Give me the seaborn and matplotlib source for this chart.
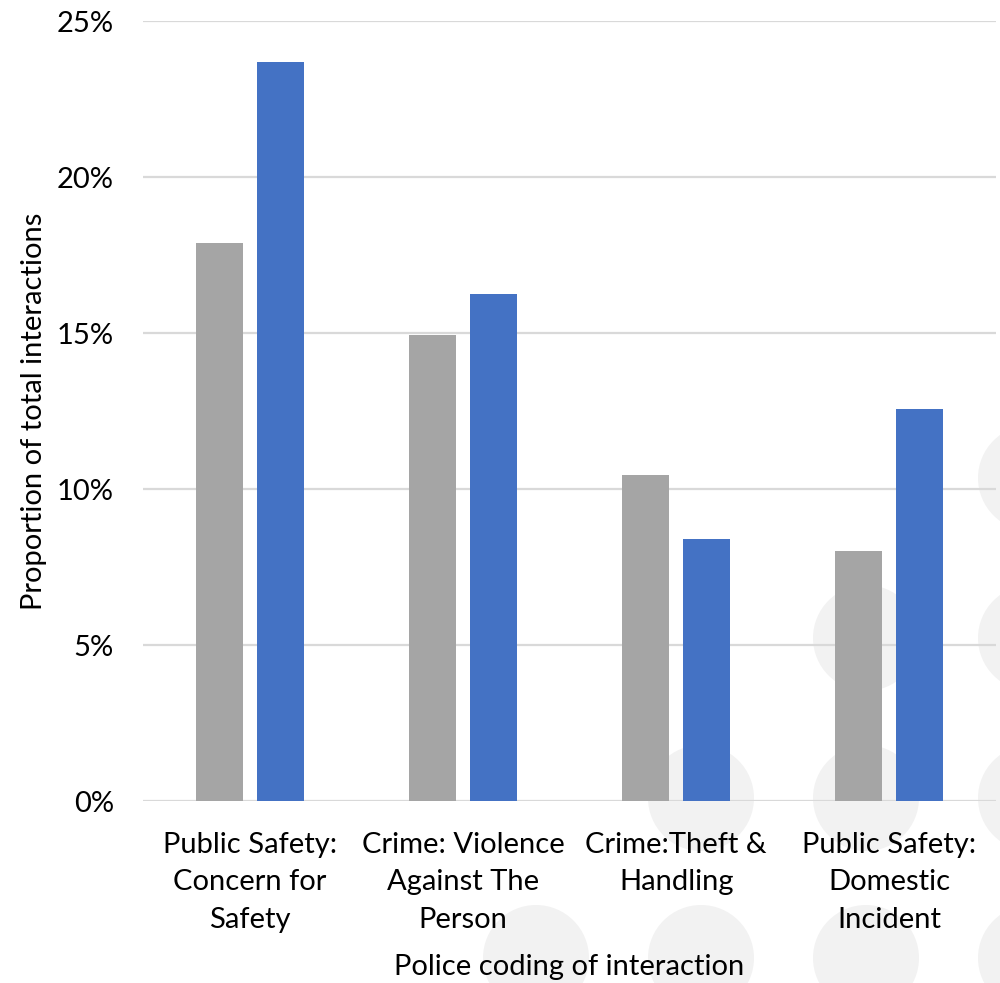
import matplotlib
matplotlib.use("Agg")
import matplotlib.pyplot as plt
from matplotlib.patches import Circle
from matplotlib.ticker import PercentFormatter
import seaborn as sns
import pandas as pd

# Police coding categories (wrapped for the axis)
categories = [
    "Public Safety:\nConcern for\nSafety",
    "Crime: Violence\nAgainst The\nPerson",
    "Crime:Theft &\nHandling",
    "Public Safety:\nDomestic\nIncident",
]
series_names = ["All interactions", "Subset"]
share_all = [17.9, 14.95, 10.45, 8.0]      # % of total interactions
share_subset = [23.7, 16.25, 8.4, 12.55]   # % of total interactions
y_ticks = [0, 5, 10, 15, 20, 25]

df = pd.DataFrame({
    "category": categories * 2,
    "group": [series_names[0]] * 4 + [series_names[1]] * 4,
    "share": share_all + share_subset,
})

sns.set_theme(style="white")
plt.rcParams["font.family"] = ["Lato", "DejaVu Sans"]

fig = plt.figure(figsize=(10, 9.83), dpi=100)
ax = fig.add_axes([0.143, 0.1851, 0.853, 0.7935])
ax.set_facecolor("none")

# Decorative dot pattern in the lower-right corner
dot_cols = [536, 701, 866, 1031]
dot_rows = [478, 638, 798, 958]
for r, yy in enumerate(dot_rows):
    for c, xx in enumerate(dot_cols):
        if c >= 3 - r:
            fig.add_artist(Circle((xx / 100, (983 - yy) / 100), 0.53,
                                  transform=fig.dpi_scale_trans,
                                  facecolor="#f2f2f2", edgecolor="none",
                                  zorder=-5))

sns.barplot(data=df, x="category", y="share", hue="group",
            palette=["#a5a5a5", "#4472c4"], saturation=1,
            width=0.572, gap=0.23, dodge=True, legend=False,
            ax=ax, zorder=3, linewidth=0)

ax.set_ylim(0, 25)
ax.set_yticks(y_ticks)
ax.yaxis.set_major_formatter(PercentFormatter(decimals=0))
ax.grid(axis="y", color="#d9d9d9", linewidth=1.6, zorder=0)
ax.set_axisbelow(True)
for s in ax.spines.values():
    s.set_visible(False)

ax.tick_params(axis="y", length=0, pad=21, labelsize=21, labelcolor="black")
ax.tick_params(axis="x", length=0, pad=22, labelsize=21, labelcolor="black")
for lbl in ax.get_xticklabels():
    lbl.set_linespacing(1.56)

ax.set_xlabel("Police coding of interaction", fontsize=21, color="black", labelpad=15)
ax.set_ylabel("Proportion of total interactions", fontsize=21, color="black", labelpad=7)

fig.savefig("out.png", dpi=100)
